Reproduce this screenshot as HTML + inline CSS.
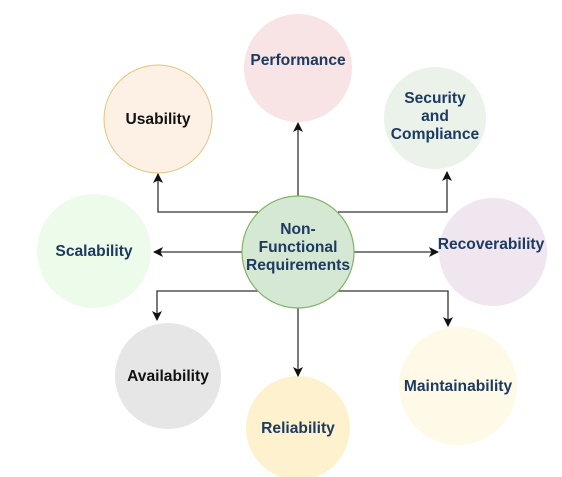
<!DOCTYPE html>
<html><head><meta charset="utf-8"><style>
html,body{margin:0;padding:0;background:#fff;}
svg{display:block;}
text{font-family:"Liberation Sans",Arial,sans-serif;font-weight:bold;font-size:15.6px;text-anchor:middle;fill:#1d3a60;}
</style></head><body>
<svg width="562" height="477" viewBox="0 0 562 477">
<defs><marker id="a" markerWidth="10" markerHeight="10" refX="9" refY="5" orient="auto" markerUnits="userSpaceOnUse"><path d="M0,0 L10,5 L0,10 L2.5,5 z" fill="#111"/></marker></defs>
<circle cx="298" cy="68" r="54" fill="#f8e4e4"/>
<circle cx="158" cy="119" r="54" fill="#fdf1e6" stroke="#e3c37a" stroke-width="1"/>
<circle cx="435" cy="118" r="51" fill="#eaf2ea"/>
<circle cx="493" cy="252" r="54" fill="#efe6ef"/>
<circle cx="94" cy="251" r="57" fill="#edfbea"/>
<circle cx="168" cy="376" r="53" fill="#e6e6e6"/>
<circle cx="298" cy="428" r="52" fill="#fdf2cd"/>
<circle cx="458" cy="386" r="59" fill="#fffae8"/>
<g stroke="#333" stroke-width="1.3" fill="none">
<path d="M298 196 V123" marker-end="url(#a)"/>
<path d="M258 212 H158 V174" marker-end="url(#a)"/>
<path d="M338 212 H447 V172" marker-end="url(#a)"/>
<path d="M242 252 H154" marker-end="url(#a)"/>
<path d="M354 252 H438" marker-end="url(#a)"/>
<path d="M258 291 H157 V320" marker-end="url(#a)"/>
<path d="M338 291 H448 V326" marker-end="url(#a)"/>
<path d="M298 308 V376" marker-end="url(#a)"/>
</g>
<circle cx="298" cy="252" r="56" fill="#d5e8d4" stroke="#82b366" stroke-width="1.2"/>
<text x="298" y="65">Performance</text>
<text x="158" y="124" style="fill:#111">Usability</text>
<text x="435" y="103">Security</text>
<text x="435" y="121">and</text>
<text x="435" y="139">Compliance</text>
<text x="491" y="249">Recoverability</text>
<text x="94" y="256">Scalability</text>
<text x="298" y="234">Non-</text>
<text x="298" y="252">Functional</text>
<text x="298" y="270">Requirements</text>
<text x="168" y="381" style="fill:#111">Availability</text>
<text x="298" y="433">Reliability</text>
<text x="458" y="391">Maintainability</text>
</svg>
</body></html>
